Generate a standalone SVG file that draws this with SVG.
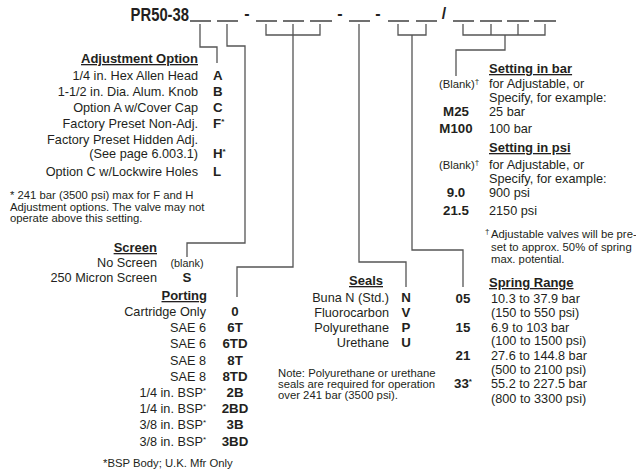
<svg xmlns="http://www.w3.org/2000/svg" width="636" height="474" viewBox="0 0 636 474">
<style>
text{font-family:"Liberation Sans",Arial,sans-serif;fill:#231f20;font-size:12.7px}
.b{font-weight:bold;font-size:13.3px}
.h{font-weight:bold;text-decoration:underline;font-size:13px}
.s{font-size:11.3px}
.sm{font-size:11.3px}
.e{text-anchor:end}
.m{text-anchor:middle}
.sup{font-size:8px}
.c{fill:none;stroke:#555;stroke-width:1.3}
.u{stroke:#333;stroke-width:1.4}
</style>
<rect width="636" height="474" fill="#fff"/>
<g id="title">
<text transform="translate(189,21) scale(0.8,1)" class="b e" style="font-size:18.5px">PR50-38</text>
<g class="u">
<line x1="190" y1="21" x2="211" y2="21"/><line x1="217" y1="21" x2="238" y2="21"/>
<line x1="256" y1="21" x2="277" y2="21"/><line x1="283" y1="21" x2="304" y2="21"/><line x1="310" y1="21" x2="332" y2="21"/>
<line x1="349" y1="21" x2="370" y2="21"/>
<line x1="388" y1="21" x2="409" y2="21"/><line x1="416" y1="21" x2="437" y2="21"/>
<line x1="453" y1="21" x2="474" y2="21"/><line x1="480" y1="21" x2="502" y2="21"/><line x1="507" y1="21" x2="529" y2="21"/><line x1="534" y1="21" x2="556" y2="21"/>
</g>
<text x="247" y="19" class="b m" style="font-size:16px">-</text>
<text x="340" y="19" class="b m" style="font-size:16px">-</text>
<text x="378" y="19" class="b m" style="font-size:16px">-</text>
<text x="444" y="19" class="b m" style="font-size:16px">/</text>
</g>
<g id="connectors" class="c">
<path d="M200,24V47H217V63"/>
<path d="M227,24V46H245V243H187V257"/>
<path d="M266,24V35H320V24M293,24V267H237V297"/>
<path d="M359,24V262H406V287"/>
<path d="M398,24V35H426V24M412,35V250H463V287"/>
<path d="M463,24V35H545V24M491,24V35M518,24V35M505,35V50H456V76"/>
</g>
<g id="adjustment">
<text x="198" y="63" class="h e">Adjustment Option</text>
<text x="198" y="80" class="e">1/4 in. Hex Allen Head</text>
<text x="198" y="96" class="e">1-1/2 in. Dia. Alum. Knob</text>
<text x="198" y="112" class="e">Option A w/Cover Cap</text>
<text x="198" y="128" class="e">Factory Preset Non-Adj.</text>
<text x="198" y="144" class="e">Factory Preset Hidden Adj.</text>
<text x="198" y="158" class="e">(See page 6.003.1)</text>
<text x="198" y="176" class="e">Option C w/Lockwire Holes</text>
<text x="213" y="80" class="b">A</text>
<text x="213" y="96" class="b">B</text>
<text x="213" y="112" class="b">C</text>
<text x="213" y="128" class="b">F<tspan dy="-4" class="sup">*</tspan></text>
<text x="213" y="158" class="b">H<tspan dy="-4" class="sup">*</tspan></text>
<text x="213" y="176" class="b">L</text>
<text x="10" y="199" class="s">* 241 bar (3500 psi) max for F and H</text>
<text x="10" y="211" class="s">Adjustment options. The valve may not</text>
<text x="10" y="222" class="s">operate above this setting.</text>
</g>
<g id="screen">
<text x="157" y="252" class="h e">Screen</text>
<text x="157" y="267" class="e">No Screen</text>
<text x="187" y="267" class="m" style="font-size:10.8px">(blank)</text>
<text x="157" y="282" class="e">250 Micron Screen</text>
<text x="187" y="282" class="b m">S</text>
</g>
<g id="porting">
<text x="207" y="300" class="h e">Porting</text>
<text x="206" y="316" class="e">Cartridge Only</text>
<text x="206" y="332" class="e">SAE 6</text>
<text x="206" y="348" class="e">SAE 6</text>
<text x="206" y="364.5" class="e">SAE 8</text>
<text x="206" y="381" class="e">SAE 8</text>
<text x="206" y="397" class="e">1/4 in. BSP<tspan dy="-4" class="sup">*</tspan></text>
<text x="206" y="413" class="e">1/4 in. BSP<tspan dy="-4" class="sup">*</tspan></text>
<text x="206" y="429" class="e">3/8 in. BSP<tspan dy="-4" class="sup">*</tspan></text>
<text x="206" y="446" class="e">3/8 in. BSP<tspan dy="-4" class="sup">*</tspan></text>
<text x="235" y="316" class="b m">0</text>
<text x="235" y="332" class="b m">6T</text>
<text x="235" y="348" class="b m">6TD</text>
<text x="235" y="364.5" class="b m">8T</text>
<text x="235" y="381" class="b m">8TD</text>
<text x="235" y="397" class="b m">2B</text>
<text x="235" y="413" class="b m">2BD</text>
<text x="235" y="429" class="b m">3B</text>
<text x="235" y="446" class="b m">3BD</text>
<text x="103" y="467" class="s">*BSP Body; U.K. Mfr Only</text>
</g>
<g id="seals">
<text x="383" y="285" class="h e">Seals</text>
<text x="389" y="302" class="e">Buna N (Std.)</text>
<text x="389" y="317" class="e">Fluorocarbon</text>
<text x="389" y="332" class="e">Polyurethane</text>
<text x="389" y="347" class="e">Urethane</text>
<text x="406" y="302" class="b m">N</text>
<text x="406" y="317" class="b m">V</text>
<text x="406" y="332" class="b m">P</text>
<text x="406" y="347" class="b m">U</text>
<text x="278" y="377" class="s">Note: Polyurethane or urethane</text>
<text x="278" y="388" class="s">seals are required for operation</text>
<text x="278" y="399" class="s">over 241 bar (3500 psi).</text>
</g>
<g id="setting-bar">
<text x="489" y="73" class="h">Setting in bar</text>
<text x="459" y="88" class="sm m">(Blank)<tspan dy="-4" class="sup">†</tspan></text>
<text x="489" y="88">for Adjustable, or</text>
<text x="489" y="102">Specify, for example:</text>
<text x="456" y="116" class="b m">M25</text>
<text x="489" y="116">25 bar</text>
<text x="456" y="133" class="b m">M100</text>
<text x="489" y="133">100 bar</text>
</g>
<g id="setting-psi">
<text x="489" y="152" class="h">Setting in psi</text>
<text x="459" y="169" class="sm m">(Blank)<tspan dy="-4" class="sup">†</tspan></text>
<text x="489" y="169">for Adjustable, or</text>
<text x="489" y="183">Specify, for example:</text>
<text x="456" y="197" class="b m">9.0</text>
<text x="489" y="197">900 psi</text>
<text x="456" y="215" class="b m">21.5</text>
<text x="489" y="215">2150 psi</text>
<text x="485" y="234" class="sup">†</text>
<text x="491" y="238" class="s">Adjustable valves will be pre-</text>
<text x="491" y="251" class="s">set to approx. 50% of spring</text>
<text x="491" y="263" class="s">max. potential.</text>
</g>
<g id="spring-range">
<text x="489" y="287" class="h">Spring Range</text>
<text x="463" y="303" class="b m">05</text>
<text x="491" y="303">10.3 to 37.9 bar</text>
<text x="491" y="317">(150 to 550 psi)</text>
<text x="463" y="332" class="b m">15</text>
<text x="491" y="332">6.9 to 103 bar</text>
<text x="491" y="345">(100 to 1500 psi)</text>
<text x="463" y="360" class="b m">21</text>
<text x="491" y="360">27.6 to 144.8 bar</text>
<text x="491" y="374">(500 to 2100 psi)</text>
<text x="463" y="388" class="b m">33<tspan dy="-4" class="sup">*</tspan></text>
<text x="491" y="388">55.2 to 227.5 bar</text>
<text x="491" y="403">(800 to 3300 psi)</text>
</g>
</svg>
